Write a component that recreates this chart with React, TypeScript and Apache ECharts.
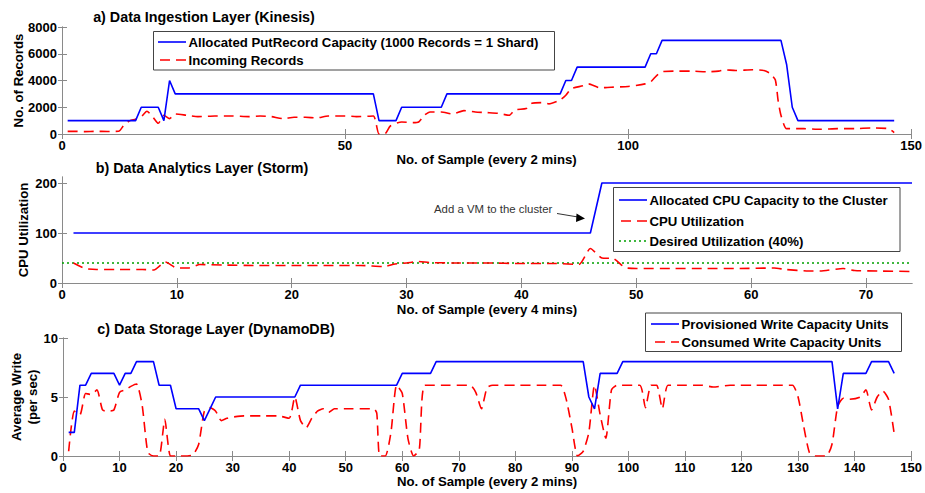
import React, { useEffect, useRef } from "react";
import * as echarts from "echarts";

// ---------- Panel a: Kinesis ----------
const kinesisCapacity: [number, number][] = [
  [1, 1000], [13, 1000], [14, 2000], [17, 2000], [18, 1000], [19, 4000], [20, 3000], [55, 3000],
  [56, 1000], [59, 1000], [60, 2000], [67, 2000], [68, 3000], [88, 3000], [89, 4000], [90, 4000],
  [91, 5000], [103, 5000], [104, 6000], [105, 6000], [106, 7000], [127, 7000], [128, 5200],
  [129, 2000], [130, 1000], [147, 1000],
];
const kinesisIncoming: [number, number][] = [
  [1, 200], [2, 200], [4, 180], [6, 200], [8, 190], [10, 200], [11, 700], [12, 1000], [13, 1100],
  [14, 1300], [15, 1700], [16, 1300], [17, 800], [18, 1400], [19, 1150], [20, 1500], [22, 1400],
  [24, 1300], [27, 1350], [30, 1350], [33, 1300], [35, 1350], [37, 1300], [39, 1150], [41, 1250],
  [43, 1250], [45, 1200], [47, 1350], [50, 1350], [52, 1300], [55, 1350], [56, 0], [57, 0],
  [58, 600], [60, 900], [62, 850], [63, 900], [64, 1400], [65, 1650], [67, 1650], [69, 1500],
  [71, 1750], [73, 1650], [75, 1600], [77, 1550], [79, 1400], [80, 1800], [82, 1900], [83, 2300],
  [85, 2350], [86, 2250], [88, 2550], [89, 2900], [90, 3400], [92, 3600], [93, 3750], [95, 3450],
  [97, 3500], [100, 3550], [103, 3750], [104, 3900], [105, 4350], [106, 4650], [108, 4700],
  [111, 4700], [114, 4650], [116, 4700], [117, 4800], [119, 4750], [122, 4800], [124, 4750],
  [125, 4550], [126, 4050], [126.5, 2500], [127, 1400], [128, 400], [131, 400], [134, 350],
  [137, 400], [140, 400], [143, 450], [146, 400], [147, 100],
];
const kinesisYTicks = [0, 2000, 4000, 6000, 8000];
const kinesisXTicks = [0, 50, 100, 150];

// ---------- Panel b: Storm ----------
const stormCapacity: [number, number][] = [[1, 100], [46, 100], [47, 200], [74, 200]];
const stormCpu: [number, number][] = [
  [1, 40], [2, 29], [3, 27], [5, 27], [7, 27], [8, 26], [9, 42], [10, 30], [11, 30], [12, 37],
  [14, 36], [17, 35], [20, 35], [23, 35], [26, 35], [28, 33], [29, 38], [30, 40], [31, 43],
  [32, 41], [34, 40], [37, 40], [40, 39], [43, 39], [45, 37], [46, 69], [47, 50], [48, 49],
  [49, 31], [50, 29], [53, 29], [56, 29], [59, 29], [62, 30], [63, 27], [65, 24], [66, 24],
  [68, 29], [69, 25], [71, 24], [74, 23],
];
const stormDesired: [number, number][] = [[0, 40], [74, 40]];
const stormYTicks = [0, 100, 200];
const stormXTicks = [0, 10, 20, 30, 40, 50, 60, 70];

// ---------- Panel c: DynamoDB ----------
const dynamoProvisioned: [number, number][] = [
  [1, 2], [2, 2], [3, 6], [4, 6], [5, 7], [9, 7], [10, 6], [11, 7], [12, 7], [13, 8], [16, 8],
  [17, 6], [19, 6], [20, 4], [24, 4], [25, 3], [26, 4], [27, 5], [41, 5], [42, 6], [59, 6],
  [60, 7], [65, 7], [66, 8], [92, 8], [93, 5], [94, 4], [95, 7], [98, 7], [99, 8], [136, 8],
  [137, 4], [138, 7], [142, 7], [143, 8], [146, 8], [147, 7],
];
const dynamoConsumed: [number, number][] = [
  [1, 0.4], [2, 3.8], [3, 3.5], [4, 5.3], [5, 5.2], [6, 5.6], [7, 3.9], [8, 3.8], [9, 3.9],
  [10, 5.4], [11, 5.6], [12, 5.9], [13, 6.1], [14, 4.3], [15, 0.3], [16, 0], [17, 0], [18, 3.1],
  [19, 0], [20, 0], [22, 0], [23, 0.1], [24, 1], [25, 3.8], [26, 4.1], [27, 3.8], [28, 3],
  [29, 3.2], [30, 3.3], [32, 3.4], [35, 3.4], [38, 3.4], [40, 3.2], [41, 5], [42, 3], [43, 2.4],
  [44, 3.2], [45, 3.8], [46, 4], [47, 3.7], [48, 4], [51, 4], [55, 4], [55.5, 3.6], [56, 0],
  [57, 0], [58, 2], [59, 6], [60, 5.3], [61, 1.5], [62, 0], [63, 0.5], [64, 6], [68, 6], [72, 6],
  [73, 5.4], [74, 4], [75, 5.8], [76, 6], [80, 6], [84, 6], [88, 6], [89, 4.8], [90, 2.4], [91, 0],
  [92, 0.4], [93, 2], [94, 6], [95, 3.5], [96, 1.5], [97, 5.6], [98, 6], [102, 6], [103, 4.1],
  [104, 6], [105, 6], [106, 4], [107, 6], [110, 6], [113, 6], [115, 5.85], [118, 6], [122, 6],
  [126, 6], [129, 6], [130, 5], [131, 2.5], [132, 0.3], [133, 0], [135, 0], [136, 1], [137, 4.2],
  [138, 4.9], [139, 4.8], [141, 5], [142, 5.6], [143, 3.9], [144, 5], [145, 5.5], [146, 4.8],
  [147, 1.9],
];
const dynamoYTicks = [0, 5, 10];
const dynamoXTicks = [0, 10, 20, 30, 40, 50, 60, 70, 80, 90, 100, 110, 120, 130, 140, 150];

const titles = [
  "a) Data Ingestion Layer (Kinesis)",
  "b) Data Analytics Layer (Storm)",
  "c) Data Storage Layer (DynamoDB)",
];
const legendA = ["Allocated PutRecord Capacity (1000 Records = 1 Shard)", "Incoming Records"];
const legendB = ["Allocated CPU Capacity to the Cluster", "CPU Utilization", "Desired Utilization (40%)"];
const legendC = ["Provisioned Write Capacity Units", "Consumed Write Capacity Units"];
const annotation = "Add a VM to the cluster";

const FONT = "'Liberation Sans', Arial, sans-serif";
const AXIS_COLOR = "#8a8a8a";
const BLUE = "#0000ff";
const RED = "#ff0000";
const GREEN = "#00a000";
const DASH = [10, 6];

function buildOption() {
  const grids = [
    { left: 62, top: 27, width: 850, height: 107 },
    { left: 62, top: 177, width: 850, height: 106 },
    { left: 62, top: 338, width: 850, height: 118 },
  ];
  const boldLabel = { color: "#000", fontWeight: "bold", fontSize: 13, fontFamily: FONT };
  const axLine = { show: true, lineStyle: { color: AXIS_COLOR, width: 1 } };
  const axTick = (ticks: number[], length = 5) => ({
    show: true, inside: true, length, customValues: ticks, lineStyle: { color: AXIS_COLOR },
  });
  const plain = (v: number) => String(v);

  const mkX = (g: number, max: number, ticks: number[], name: string, gap: number) => [
    {
      type: "value", gridIndex: g, min: 0, max, interval: ticks[1] - ticks[0], position: "bottom",
      axisLine: axLine, axisTick: axTick(ticks), splitLine: { show: false },
      axisLabel: { ...boldLabel, margin: 5, customValues: ticks, formatter: plain },
      name, nameLocation: "middle", nameGap: gap, nameMoveOverlap: false,
      nameTextStyle: { ...boldLabel, fontSize: 13.2 },
    },
    {
      type: "value", gridIndex: g, min: 0, max, interval: ticks[1] - ticks[0], position: "top",
      axisLine: axLine, axisTick: axTick(ticks), axisLabel: { show: false }, splitLine: { show: false },
    },
  ];
  const mkY = (g: number, max: number, ticks: number[], name: string, gap: number) => [
    {
      type: "value", gridIndex: g, min: 0, max, interval: ticks[1] - ticks[0], position: "left",
      axisLine: axLine, axisTick: axTick(ticks), splitLine: { show: false },
      axisLabel: { ...boldLabel, margin: 5, customValues: ticks, formatter: plain },
      name, nameLocation: "middle", nameGap: gap, nameMoveOverlap: false,
      nameTextStyle: { ...boldLabel, fontSize: 13.2, lineHeight: 16, align: "center" },
    },
    {
      type: "value", gridIndex: g, min: 0, max, interval: ticks[1] - ticks[0], position: "right",
      axisLine: axLine, axisTick: axTick(ticks, 4), axisLabel: { show: false }, splitLine: { show: false },
    },
  ];

  const xAxis = [
    ...mkX(0, 150, kinesisXTicks, "No. of Sample (every 2 mins)", 19),
    ...mkX(1, 74, stormXTicks, "No. of Sample (every 4 mins)", 20),
    ...mkX(2, 150, dynamoXTicks, "No. of Sample (every 2 mins)", 19),
  ];
  const yAxis = [
    ...mkY(0, kinesisYTicks[kinesisYTicks.length - 1], kinesisYTicks, "No. of Records", 36),
    ...mkY(1, 212, stormYTicks, "CPU Utilization", 31),
    ...mkY(2, dynamoYTicks[dynamoYTicks.length - 1], dynamoYTicks, "Average Write\n(per sec)", 23),
  ];

  const line = (name: string, data: [number, number][], idx: number, color: string, type: any, width = 1.6, smooth: any = false) => ({
    name, type: "line", data, xAxisIndex: idx, yAxisIndex: idx, showSymbol: false, symbol: "none",
    smooth, lineStyle: { color, width, type }, z: 3,
  });

  const series = [
    line(legendA[1], kinesisIncoming, 0, RED, DASH, 1.6, 0.2),
    line(legendA[0], kinesisCapacity, 0, BLUE, "solid"),
    line(legendB[2], stormDesired, 2, GREEN, [2, 3], 1.6),
    line(legendB[1], stormCpu, 2, RED, DASH, 1.6, 0.2),
    line(legendB[0], stormCapacity, 2, BLUE, "solid"),
    line(legendC[1], dynamoConsumed, 4, RED, DASH, 1.6, 0.2),
    line(legendC[0], dynamoProvisioned, 4, BLUE, "solid"),
  ];

  const txt = (x: number, y: number, text: string, size = 13.2, weight = "bold", color = "#000", align = "left") => ({
    type: "text", x, y, z: 20,
    style: { text, fill: color, font: `${weight} ${size}px ${FONT}`, textAlign: align, textVerticalAlign: "middle" },
  });
  const seg = (x1: number, x2: number, y: number, color: string, dash?: number[]) => ({
    type: "line", z: 20,
    shape: { x1, y1: y, x2, y2: y },
    style: { stroke: color, lineWidth: 1.6, lineDash: dash },
  });
  const box = (x: number, y: number, w: number, h: number) => ({
    type: "rect", z: 19, shape: { x, y, width: w, height: h },
    style: { fill: "#fff", stroke: "#444", lineWidth: 1 },
  });

  const graphic = [
    txt(204, 17, titles[0], 14.3, "bold", "#000", "center"),
    txt(202, 168, titles[1], 14.3, "bold", "#000", "center"),
    txt(216, 329, titles[2], 14.3, "bold", "#000", "center"),
    // legend a
    box(153.5, 31.5, 401, 38.5),
    seg(158, 186, 42, BLUE),
    seg(160, 186, 60, RED, DASH),
    txt(188.5, 42.5, legendA[0]),
    txt(188.5, 60.5, legendA[1]),
    // legend b
    box(613.5, 187.5, 286.5, 64),
    seg(619, 647, 200, BLUE),
    seg(621, 647, 221, RED, DASH),
    seg(619, 647, 241, GREEN, [2, 3]),
    txt(649.5, 200.5, legendB[0]),
    txt(649.5, 221.5, legendB[1]),
    txt(649.5, 241.5, legendB[2]),
    // legend c
    box(645.5, 313, 256, 38.5),
    seg(651, 679, 324, BLUE),
    seg(655, 679, 342, RED, DASH),
    txt(681.5, 324.5, legendC[0]),
    txt(681.5, 342.5, legendC[1]),
    // annotation
    txt(434, 209, annotation, 11.4, "normal", "#333"),
    {
      type: "line", z: 20, shape: { x1: 557, y1: 213.5, x2: 578, y2: 217 },
      style: { stroke: "#333", lineWidth: 1 },
    },
    {
      type: "polygon", z: 20,
      shape: { points: [[585, 218.5], [576.5, 213.5], [576, 222]] },
      style: { fill: "#000" },
    },
  ];

  return {
    animation: false,
    backgroundColor: "#fff",
    textStyle: { fontFamily: FONT },
    grid: grids,
    xAxis,
    yAxis,
    series,
    graphic,
  };
}

export default function App() {
  const ref = useRef<HTMLDivElement>(null);
  useEffect(() => {
    const chart = echarts.init(ref.current!, null, { renderer: "svg" });
    chart.setOption(buildOption() as any);
    return () => chart.dispose();
  }, []);
  return (
    <div
      ref={ref}
      style={{ position: "fixed", left: 0, top: 0, width: 925, height: 493, background: "#fff" }}
    />
  );
}
